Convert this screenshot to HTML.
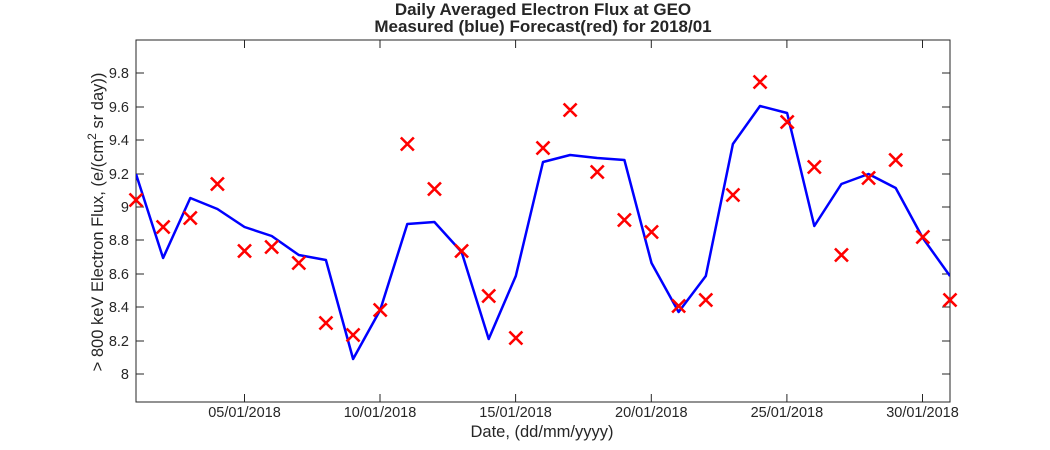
<!DOCTYPE html>
<html><head><meta charset="utf-8"><style>body{margin:0;background:#fff}svg{display:block}text{font-family:"Liberation Sans",sans-serif;fill:#262626}</style></head><body>
<svg width="1050" height="450" viewBox="0 0 1050 450" xmlns="http://www.w3.org/2000/svg">
<text x="543" y="15" font-size="17" font-weight="bold" text-anchor="middle" fill="#000">Daily Averaged Electron Flux at GEO</text>
<text x="543" y="32" font-size="17" font-weight="bold" text-anchor="middle" fill="#000">Measured (blue) Forecast(red) for 2018/01</text>
<rect x="136" y="40" width="814" height="362" fill="none" stroke="#262626" stroke-width="1"/>
<g font-size="14.5" text-anchor="end">
<text x="129" y="379">8</text><text x="129" y="346">8.2</text><text x="129" y="312">8.4</text><text x="129" y="279">8.6</text><text x="129" y="245">8.8</text><text x="129" y="212">9</text><text x="129" y="179">9.2</text><text x="129" y="145">9.4</text><text x="129" y="112">9.6</text><text x="129" y="78">9.8</text>
</g>
<g stroke="#262626" stroke-width="1">
<path d="M136 374h8M136 341h8M136 307h8M136 274h8M136 240h8M136 207h8M136 174h8M136 140h8M136 107h8M136 73h8"/>
<path d="M950 374h-8M950 341h-8M950 307h-8M950 274h-8M950 240h-8M950 207h-8M950 174h-8M950 140h-8M950 107h-8M950 73h-8"/>
<path d="M244.5 402v-8M380 402v-8M515.6 402v-8M651.3 402v-8M786.9 402v-8M922.5 402v-8"/>
<path d="M244.5 40v8M380 40v8M515.6 40v8M651.3 40v8M786.9 40v8M922.5 40v8"/>
</g>
<g font-size="14.5" text-anchor="middle">
<text x="244.5" y="417">05/01/2018</text><text x="380" y="417">10/01/2018</text><text x="515.6" y="417">15/01/2018</text><text x="651.3" y="417">20/01/2018</text><text x="786.9" y="417">25/01/2018</text><text x="922.5" y="417">30/01/2018</text>
</g>
<text x="542" y="437" font-size="16.5" text-anchor="middle">Date, (dd/mm/yyyy)</text>
<text transform="translate(103,222) rotate(-90)" font-size="16.5" text-anchor="middle">&gt; 800 keV Electron Flux, (e/(cm<tspan font-size="12" dy="-7">2</tspan><tspan dy="7"> sr day))</tspan></text>
<svg x="136" y="40" width="814" height="362" viewBox="136 40 814 362" overflow="hidden">
<polyline fill="none" stroke="#0000ff" stroke-width="2.5" stroke-linejoin="round" points="136,174 163.1,258 190.3,198 217.4,209 244.5,227 271.7,236 298.8,255 325.9,260 353.1,359 380.2,310 407.3,224 434.4,222 461.6,252 488.7,339 515.8,276 543,162 570.1,155 597.2,158 624.4,160 651.5,263 678.6,312 705.8,276 732.9,144 760,106 787.1,113 814.3,226 841.4,184 868.5,174 895.7,188 922.8,238 950,276"/>
</svg>
<g stroke="#ff0000" stroke-width="2.6" fill="none" id="xs"></g>
<script>
var ys=[200,227,218,184,251,247,263,323,335,310,144,189,251,296,338,148,110,172,220,232,306,300,195,82,122,167,255,178,160,237,300];
var d="";for(var i=0;i<31;i++){var x=136+i*27.133,y=ys[i];d+="M"+(x-6.5)+" "+(y-6.5)+"l13 13M"+(x-6.5)+" "+(y+6.5)+"l13 -13";}
var p=document.createElementNS("http://www.w3.org/2000/svg","path");p.setAttribute("d",d);document.getElementById("xs").appendChild(p);
</script>
</svg>
</body></html>
